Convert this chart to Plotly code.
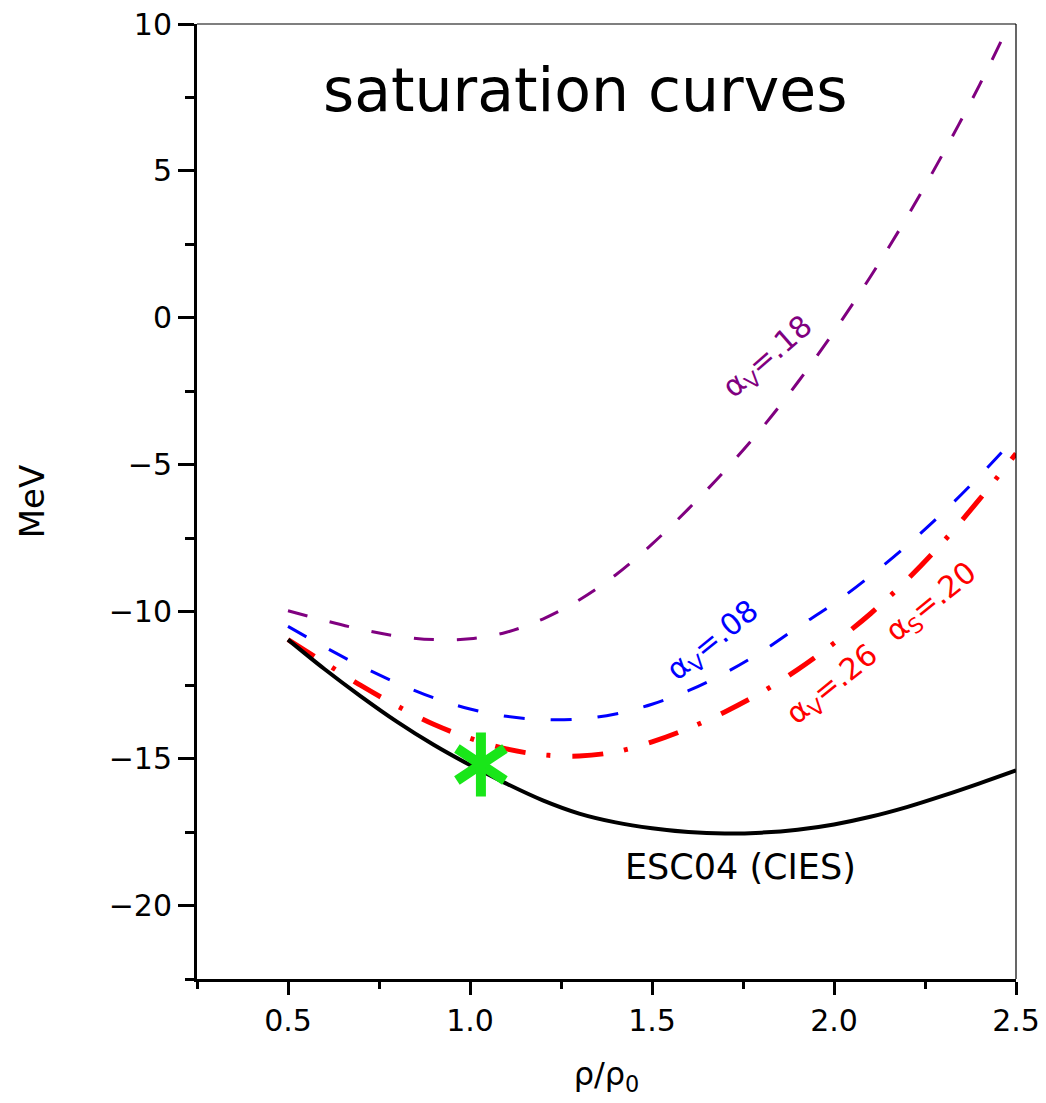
import plotly.graph_objects as go

# ---- data ----
rho = [0.5, 0.6, 0.7, 0.8, 0.9, 1.0, 1.1, 1.2, 1.3, 1.4, 1.5,
       1.6, 1.7, 1.8, 1.9, 2.0, 2.1, 2.2, 2.3, 2.4, 2.5]

esc04_cies = [-10.95, -11.95, -12.88, -13.75, -14.53, -15.22, -15.85, -16.42, -16.87, -17.17, -17.37,
              -17.5, -17.55, -17.52, -17.42, -17.24, -16.98, -16.65, -16.26, -15.84, -15.4]

av26_as20 = [-10.95, -11.73, -12.51, -13.21, -13.83, -14.31, -14.67, -14.87, -14.91, -14.77, -14.43,
             -13.97, -13.41, -12.75, -11.97, -11.07, -10.07, -8.92, -7.62, -6.17, -4.62]

av08 = [-10.5, -11.2, -11.85, -12.43, -12.93, -13.31, -13.56, -13.67, -13.65, -13.48, -13.15,
        -12.69, -12.09, -11.37, -10.53, -9.72, -8.78, -7.75, -6.62, -5.38, -4.05]

rho_av18 = [0.5, 0.6, 0.7, 0.8, 0.9, 1.0, 1.1, 1.2, 1.3, 1.4, 1.5,
            1.6, 1.7, 1.8, 1.9, 2.0, 2.1, 2.2, 2.3, 2.4, 2.48]
av18 = [-9.97, -10.3, -10.6, -10.83, -10.95, -10.92, -10.7, -10.25, -9.6, -8.75, -7.7,
        -6.5, -5.2, -3.78, -2.2, -0.47, 1.4, 3.42, 5.6, 7.93, 9.95]

star_rho = [1.03]
star_e = [-15.2]

x_ticks = [0.5, 1.0, 1.5, 2.0, 2.5]
y_ticks = [-20, -15, -10, -5, 0, 5, 10]

FONT = "DejaVu Sans"

fig = go.Figure()

fig.add_trace(go.Scatter(x=rho_av18, y=av18, mode="lines", line_shape="spline",
                         line=dict(color="#800080", width=3, dash="20px,23px"),
                         showlegend=False))
fig.add_trace(go.Scatter(x=rho, y=av08, mode="lines", line_shape="spline",
                         line=dict(color="#0000ff", width=3, dash="21px,26px"),
                         showlegend=False))
fig.add_trace(go.Scatter(x=rho, y=av26_as20, mode="lines", line_shape="spline",
                         line=dict(color="#ff0000", width=5, dash="31px,21px,4px,22px"),
                         showlegend=False))
fig.add_trace(go.Scatter(x=rho, y=esc04_cies, mode="lines", line_shape="spline",
                         line=dict(color="#000000", width=4),
                         showlegend=False))
for sym in ["y-up-open", "y-down-open"]:
    fig.add_trace(go.Scatter(x=star_rho, y=star_e, mode="markers",
                             marker=dict(symbol=sym, size=40, color="#19e619",
                                         line=dict(color="#19e619", width=10)),
                             showlegend=False))

annots = [
    dict(text="saturation curves", x=1.316, y=7.75, font=dict(size=60, color="black"), textangle=0),
    dict(text="ESC04 (CIES)", x=1.742, y=-18.7, font=dict(size=35, color="black"), textangle=0),
    dict(text="α<sub>V</sub>=.18", x=1.82, y=-1.36, font=dict(size=30, color="#800080"), textangle=-41),
    dict(text="α<sub>V</sub>=.08", x=1.668, y=-11.02, font=dict(size=30, color="#0000ff"), textangle=-39),
    dict(text="α<sub>V</sub>=.26", x=1.995, y=-12.5, font=dict(size=30, color="#ff0000"), textangle=-39),
    dict(text="α<sub>S</sub>=.20", x=2.27, y=-9.7, font=dict(size=30, color="#ff0000"), textangle=-39),
]
for a in annots:
    fig.add_annotation(x=a["x"], y=a["y"], xref="x", yref="y", text=a["text"],
                       showarrow=False, textangle=a["textangle"],
                       xanchor="center", yanchor="middle",
                       font=dict(family=FONT, **a["font"]))

# thin top/right frame lines
fig.add_shape(type="line", xref="paper", yref="paper", x0=0, x1=1, y0=1, y1=1,
              line=dict(color="black", width=1.2))
fig.add_shape(type="line", xref="paper", yref="paper", x0=1, x1=1, y0=0, y1=1,
              line=dict(color="black", width=1.2))

fig.update_layout(
    width=1046, height=1103,
    margin=dict(l=197, r=30, t=24, b=124),
    paper_bgcolor="white", plot_bgcolor="white",
    font=dict(family=FONT, color="black"),
    xaxis=dict(range=[0.25, 2.5], tickvals=x_ticks, ticktext=[f"{v:.1f}" for v in x_ticks],
               ticks="outside", ticklen=13, tickwidth=2.5, tickcolor="black",
               minor=dict(dtick=0.25, tick0=0.25, ticks="outside", ticklen=7, tickwidth=2.5, tickcolor="black"),
               showline=True, linewidth=3, linecolor="black", showgrid=False, zeroline=False,
               automargin=False,
               tickfont=dict(size=30, family=FONT),
               title=dict(text="ρ/ρ<sub>0</sub>", font=dict(size=32, family=FONT), standoff=26)),
    yaxis=dict(range=[-22.5, 10], tickvals=y_ticks,
               ticks="outside", ticklen=16, tickwidth=2.5, tickcolor="black",
               minor=dict(dtick=2.5, tick0=0, ticks="outside", ticklen=9, tickwidth=2.5, tickcolor="black"),
               showline=True, linewidth=3, linecolor="black", showgrid=False, zeroline=False,
               automargin=False,
               tickfont=dict(size=30, family=FONT),
               title=dict(text="MeV", font=dict(size=34, family=FONT), standoff=54)),
)

fig.write_html("out.html")
